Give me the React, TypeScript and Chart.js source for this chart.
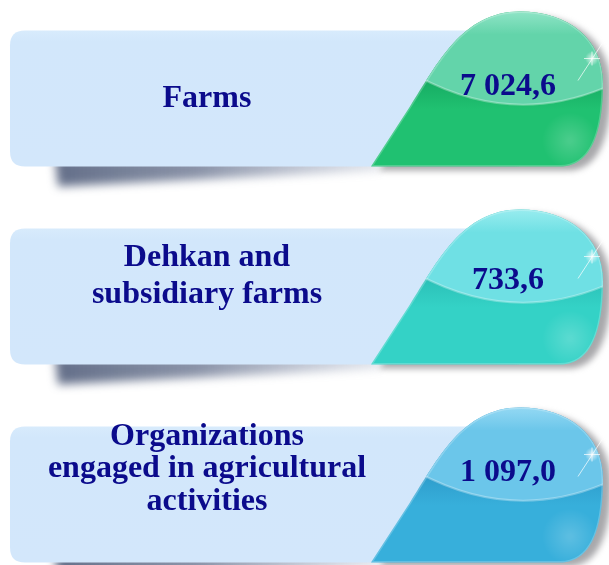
import React, { useEffect, useRef } from "react";
import { Chart, registerables } from "chart.js";

Chart.register(...registerables);

// ---- data ----
const CATEGORIES = ["Farms", "Dehkan and subsidiary farms", "Organizations engaged in agricultural activities"];
const LABEL_LINES = [["Farms"], ["Dehkan and", "subsidiary farms"], ["Organizations", "engaged in agricultural", "activities"]];
const VALUES = [7024.6, 733.6, 1097.0];

// ---- styles ----
const UPPER_TOP = ["#8fe4c6", "#98ecef", "#93d8f3"];
const UPPER_BOTTOM = ["#63d4aa", "#6fe0e4", "#6bc6ea"];
const LOWER_TOP = ["#16aa62", "#2bbfb6", "#2e9ccb"];
const LOWER_BOTTOM = ["#20c171", "#34d2c6", "#37afdb"];
const TEXT_FIRST_BASELINE = [8.5, -30, -49.5];
const TEXT_LINE_HEIGHT = [0, 37, 32.5];
const VALUE_BASELINE = [-3.5, -7, -13.5];
const TEXT_COLOR = "#0b0b8c";
const FONT = 'bold 32px "Liberation Serif", "Times New Roman", serif';

function fmt(v: number) {
  const [i, d] = v.toFixed(1).split(".");
  return i.replace(/\B(?=(\d{3})+(?!\d))/g, " ") + "," + d;
}

function dropPath(ctx: CanvasRenderingContext2D, cy: number) {
  ctx.beginPath();
  ctx.moveTo(371, cy + 68);
  ctx.lineTo(410, cy + 8);
  ctx.bezierCurveTo(437, cy - 34, 462, cy - 87, 520, cy - 87);
  ctx.bezierCurveTo(568, cy - 87, 603, cy - 60, 603, cy - 15);
  ctx.bezierCurveTo(603, cy + 25, 595, cy + 68, 560, cy + 68);
  ctx.closePath();
}

function roundRect(ctx: CanvasRenderingContext2D, x: number, y: number, w: number, h: number, r: number) {
  ctx.beginPath();
  ctx.moveTo(x + r, y);
  ctx.lineTo(x + w - r, y);
  ctx.quadraticCurveTo(x + w, y, x + w, y + r);
  ctx.lineTo(x + w, y + h - r);
  ctx.quadraticCurveTo(x + w, y + h, x + w - r, y + h);
  ctx.lineTo(x + r, y + h);
  ctx.quadraticCurveTo(x, y + h, x, y + h - r);
  ctx.lineTo(x, y + r);
  ctx.quadraticCurveTo(x, y, x + r, y);
  ctx.closePath();
}

const panelsPlugin = {
  id: "panels",
  afterDatasetsDraw(chart: any) {
    const ctx: CanvasRenderingContext2D = chart.ctx;
    const meta = chart.getDatasetMeta(0);
    meta.data.forEach((el: any, i: number) => {
      const cy = el.y;
      const top = cy - 68;
      const bottom = cy + 68;

      // shadow under panel
      ctx.save();
      ctx.filter = "blur(5px)";
      const sg = ctx.createLinearGradient(50, 0, 380, 0);
      sg.addColorStop(0, "rgba(45,60,95,0.75)");
      sg.addColorStop(0.45, "rgba(60,75,110,0.6)");
      sg.addColorStop(1, "rgba(100,115,150,0.2)");
      ctx.fillStyle = sg;
      ctx.beginPath();
      ctx.moveTo(55, bottom - 8);
      ctx.lineTo(380, bottom - 8);
      ctx.lineTo(380, bottom + 4);
      ctx.lineTo(58, bottom + 20);
      ctx.closePath();
      ctx.fill();
      ctx.restore();

      // panel
      ctx.save();
      roundRect(ctx, 10, top, 520, bottom - top, 15);
      const pg = ctx.createLinearGradient(0, top, 0, bottom);
      pg.addColorStop(0, "#d8ebfc");
      pg.addColorStop(0.08, "#d2e7fb");
      pg.addColorStop(1, "#d3e7fb");
      ctx.fillStyle = pg;
      ctx.fill();
      ctx.restore();

      // drop shadow
      ctx.save();
      ctx.filter = "blur(3px)";
      ctx.translate(8, 4);
      dropPath(ctx, cy);
      ctx.fillStyle = "rgba(110,110,115,0.6)";
      ctx.fill();
      ctx.restore();

      // drop lower body
      ctx.save();
      dropPath(ctx, cy);
      const lg = ctx.createLinearGradient(0, cy - 20, 0, cy + 68);
      lg.addColorStop(0, LOWER_TOP[i]);
      lg.addColorStop(0.35, LOWER_BOTTOM[i]);
      lg.addColorStop(1, LOWER_BOTTOM[i]);
      ctx.fillStyle = lg;
      ctx.fill();
      ctx.clip();
      // bottom-right soft reflection
      const rg = ctx.createRadialGradient(570, cy + 42, 2, 570, cy + 42, 28);
      rg.addColorStop(0, "rgba(255,255,255,0.18)");
      rg.addColorStop(1, "rgba(255,255,255,0)");
      ctx.fillStyle = rg;
      ctx.fillRect(530, cy + 5, 80, 70);
      // upper lighter region
      ctx.beginPath();
      ctx.moveTo(380, cy - 100);
      ctx.lineTo(418, cy - 22);
      ctx.quadraticCurveTo(515, cy + 30, 612, cy - 14);
      ctx.lineTo(612, cy - 100);
      ctx.closePath();
      const ug = ctx.createLinearGradient(0, cy - 87, 0, cy + 5);
      ug.addColorStop(0, UPPER_TOP[i]);
      ug.addColorStop(0.25, UPPER_BOTTOM[i]);
      ug.addColorStop(1, UPPER_BOTTOM[i]);
      ctx.fillStyle = ug;
      ctx.fill();
      // rim on liquid line
      ctx.beginPath();
      ctx.moveTo(418, cy - 22);
      ctx.quadraticCurveTo(515, cy + 30, 612, cy - 14);
      ctx.strokeStyle = "rgba(255,255,255,0.3)";
      ctx.lineWidth = 2;
      ctx.stroke();
      // top rim
      dropPath(ctx, cy);
      ctx.strokeStyle = "rgba(255,255,255,0.22)";
      ctx.lineWidth = 3;
      ctx.stroke();
      ctx.restore();

      // glint
      ctx.save();
      const gx = 592, gy = cy - 40;
      const gg = ctx.createRadialGradient(gx, gy, 0, gx, gy, 7);
      gg.addColorStop(0, "rgba(255,255,255,0.75)");
      gg.addColorStop(1, "rgba(255,255,255,0)");
      ctx.fillStyle = gg;
      ctx.fillRect(gx - 10, gy - 10, 20, 20);
      ctx.strokeStyle = "rgba(255,255,255,0.7)";
      ctx.lineWidth = 1;
      ctx.beginPath();
      ctx.moveTo(578, cy - 18);
      ctx.lineTo(608, cy - 64);
      ctx.moveTo(584, gy);
      ctx.lineTo(600, gy);
      ctx.moveTo(gx, gy - 7);
      ctx.lineTo(gx, gy + 7);
      ctx.stroke();
      ctx.restore();

      // label text
      ctx.save();
      ctx.font = FONT;
      ctx.fillStyle = TEXT_COLOR;
      ctx.textAlign = "center";
      ctx.textBaseline = "alphabetic";
      LABEL_LINES[i].forEach((line, k) => {
        ctx.fillText(line, 207, cy + TEXT_FIRST_BASELINE[i] + k * TEXT_LINE_HEIGHT[i]);
      });
      ctx.fillText(fmt(VALUES[i]), 508, cy + VALUE_BASELINE[i]);
      ctx.restore();
    });
  },
};

export default function App() {
  const ref = useRef<HTMLCanvasElement>(null);
  useEffect(() => {
    if (!ref.current) return;
    const chart = new Chart(ref.current, {
      type: "scatter",
      data: {
        labels: CATEGORIES,
        datasets: [
          {
            label: "Value",
            data: VALUES.map((v, i) => ({ x: v, y: i })),
            pointRadius: 0,
            pointHoverRadius: 0,
          },
        ],
      },
      options: {
        animation: false,
        responsive: false,
        devicePixelRatio: 1,
        layout: { padding: 0 },
        plugins: { legend: { display: false }, tooltip: { enabled: false } },
        scales: {
          x: { display: false, min: 0, max: 8000 },
          y: { display: false, reverse: true, min: -0.4975, max: 2.3561 },
        },
      },
      plugins: [panelsPlugin],
    });
    return () => chart.destroy();
  }, []);
  return (
    <div style={{ position: "fixed", left: 0, top: 0, width: 609, height: 565, background: "#fff" }}>
      <canvas ref={ref} width={609} height={565} />
    </div>
  );
}
